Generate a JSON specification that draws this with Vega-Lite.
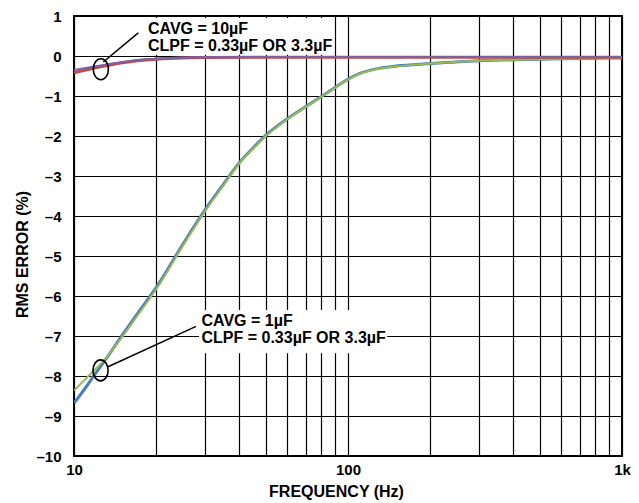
{
  "$schema": "https://vega.github.io/schema/vega-lite/v6.json",
  "autosize": "none",
  "width": 548,
  "height": 440,
  "padding": {"left": 74, "top": 16, "right": 17, "bottom": 47},
  "background": "white",
  "config": {
    "view": {"stroke": "black", "strokeWidth": 2},
    "font": "Liberation Sans",
    "axis": {
      "grid": true,
      "gridColor": "black",
      "gridWidth": 1.2,
      "gridOpacity": 1,
      "domain": false,
      "ticks": false,
      "tickSize": 0,
      "labelFont": "Liberation Sans",
      "labelFontWeight": "bold",
      "labelFontSize": 15,
      "labelColor": "black",
      "titleFont": "Liberation Sans",
      "titleFontWeight": "bold",
      "titleFontSize": 16,
      "titleColor": "black",
      "labelOverlap": false,
      "labelBound": false,
      "labelFlush": false
    }
  },
  "datasets": {
    "curves": [
      {"series": "A", "f": 10, "v": -8.68},
      {"series": "A", "f": 11, "v": -8.3},
      {"series": "A", "f": 12, "v": -7.93},
      {"series": "A", "f": 13, "v": -7.6},
      {"series": "A", "f": 15, "v": -6.98},
      {"series": "A", "f": 17, "v": -6.45},
      {"series": "A", "f": 20, "v": -5.78},
      {"series": "A", "f": 25, "v": -4.7},
      {"series": "A", "f": 30, "v": -3.86},
      {"series": "A", "f": 35, "v": -3.22},
      {"series": "A", "f": 40, "v": -2.68},
      {"series": "A", "f": 45, "v": -2.3},
      {"series": "A", "f": 50, "v": -1.99},
      {"series": "A", "f": 60, "v": -1.57},
      {"series": "A", "f": 70, "v": -1.27},
      {"series": "A", "f": 80, "v": -1.01},
      {"series": "A", "f": 90, "v": -0.78},
      {"series": "A", "f": 100, "v": -0.58},
      {"series": "A", "f": 110, "v": -0.44},
      {"series": "A", "f": 120, "v": -0.36},
      {"series": "A", "f": 130, "v": -0.31},
      {"series": "A", "f": 150, "v": -0.25},
      {"series": "A", "f": 200, "v": -0.19},
      {"series": "A", "f": 300, "v": -0.12},
      {"series": "A", "f": 500, "v": -0.08},
      {"series": "A", "f": 700, "v": -0.06},
      {"series": "A", "f": 1000, "v": -0.05},
      {"series": "B", "f": 10, "v": -8.36},
      {"series": "B", "f": 11, "v": -8.08},
      {"series": "B", "f": 12, "v": -7.82},
      {"series": "B", "f": 13, "v": -7.57},
      {"series": "B", "f": 15, "v": -7.02},
      {"series": "B", "f": 17, "v": -6.5},
      {"series": "B", "f": 20, "v": -5.82},
      {"series": "B", "f": 25, "v": -4.74},
      {"series": "B", "f": 30, "v": -3.89},
      {"series": "B", "f": 35, "v": -3.25},
      {"series": "B", "f": 40, "v": -2.7},
      {"series": "B", "f": 45, "v": -2.32},
      {"series": "B", "f": 50, "v": -2.01},
      {"series": "B", "f": 60, "v": -1.58},
      {"series": "B", "f": 70, "v": -1.28},
      {"series": "B", "f": 80, "v": -1.02},
      {"series": "B", "f": 90, "v": -0.79},
      {"series": "B", "f": 100, "v": -0.59},
      {"series": "B", "f": 110, "v": -0.45},
      {"series": "B", "f": 120, "v": -0.37},
      {"series": "B", "f": 130, "v": -0.32},
      {"series": "B", "f": 150, "v": -0.26},
      {"series": "B", "f": 200, "v": -0.19},
      {"series": "B", "f": 300, "v": -0.12},
      {"series": "B", "f": 500, "v": -0.08},
      {"series": "B", "f": 700, "v": -0.06},
      {"series": "B", "f": 1000, "v": -0.05},
      {"series": "C", "f": 10, "v": -0.42},
      {"series": "C", "f": 12.5, "v": -0.27},
      {"series": "C", "f": 15, "v": -0.17},
      {"series": "C", "f": 17, "v": -0.12},
      {"series": "C", "f": 20, "v": -0.08},
      {"series": "C", "f": 25, "v": -0.05},
      {"series": "C", "f": 30, "v": -0.04},
      {"series": "C", "f": 50, "v": -0.03},
      {"series": "C", "f": 1000, "v": -0.03},
      {"series": "D", "f": 10, "v": -0.35},
      {"series": "D", "f": 12.5, "v": -0.24},
      {"series": "D", "f": 15, "v": -0.15},
      {"series": "D", "f": 17, "v": -0.1},
      {"series": "D", "f": 20, "v": -0.07},
      {"series": "D", "f": 25, "v": -0.04},
      {"series": "D", "f": 30, "v": -0.03},
      {"series": "D", "f": 50, "v": -0.025},
      {"series": "D", "f": 1000, "v": -0.025}
    ],
    "boxes": [
      {"f": 17.5, "f2": 89, "v": 0.95, "v2": 0.03},
      {"f": 28.6, "f2": 139, "v": -6.35, "v2": -7.43}
    ],
    "leaders": [
      {"id": "top", "f": 12.79, "v": -0.15},
      {"id": "top", "f": 17.16, "v": 0.58},
      {"id": "bottom", "f": 13.19, "v": -7.78},
      {"id": "bottom", "f": 27.9, "v": -6.76}
    ],
    "rings": [
      {"f": 12.53, "v": -0.33},
      {"f": 12.5, "v": -7.86}
    ],
    "notes": [
      {"f": 18.62, "v": 0.54, "label": "CAVG = 10µF"},
      {"f": 18.62, "v": 0.13, "label": "CLPF = 0.33µF OR 3.3µF"},
      {"f": 29.2, "v": -6.76, "label": "CAVG = 1µF"},
      {"f": 29.2, "v": -7.17, "label": "CLPF = 0.33µF OR 3.3µF"}
    ]
  },
  "encoding": {
    "x": {
      "field": "f",
      "type": "quantitative",
      "scale": {"type": "log", "domain": [10, 1000], "nice": false},
      "axis": {
        "title": "FREQUENCY (Hz)",
        "values": [10, 20, 30, 40, 50, 60, 70, 80, 90, 100, 200, 300, 400, 500, 600, 700, 800, 900, 1000],
        "labelExpr": "datum.value == 10 ? '10' : datum.value == 100 ? '100' : datum.value == 1000 ? '1k' : ''",
        "labelPadding": 6,
        "titleX": 262,
        "titleY": 40,
        "titleAlign": "center",
        "titleBaseline": "alphabetic"
      }
    },
    "y": {
      "field": "v",
      "type": "quantitative",
      "scale": {"domain": [-10, 1], "nice": false, "zero": false},
      "axis": {
        "title": "RMS ERROR (%)",
        "values": [-10, -9, -8, -7, -6, -5, -4, -3, -2, -1, 0, 1],
        "labelExpr": "datum.value < 0 ? '–' + (-datum.value) : '' + datum.value",
        "labelPadding": 13,
        "titleX": -47,
        "titleY": 238,
        "titleAlign": "center",
        "titleBaseline": "alphabetic",
        "titleAngle": -90
      }
    }
  },
  "layer": [
    {
      "data": {"name": "boxes"},
      "mark": {"type": "rect", "fill": "white", "stroke": null},
      "encoding": {
        "x2": {"field": "f2"},
        "y2": {"field": "v2"}
      }
    },
    {
      "data": {"name": "curves"},
      "transform": [{"filter": "datum.series == 'A'"}],
      "mark": {"type": "line", "color": "#4a7ebb", "strokeWidth": 3, "interpolate": "monotone", "clip": true}
    },
    {
      "data": {"name": "curves"},
      "transform": [{"filter": "datum.series == 'B'"}],
      "mark": {"type": "line", "color": "#98b954", "strokeWidth": 2, "interpolate": "monotone", "clip": true}
    },
    {
      "data": {"name": "curves"},
      "transform": [{"filter": "datum.series == 'C'"}],
      "mark": {"type": "line", "color": "#be4b48", "strokeWidth": 3, "interpolate": "monotone", "clip": true}
    },
    {
      "data": {"name": "curves"},
      "transform": [{"filter": "datum.series == 'D'"}],
      "mark": {"type": "line", "color": "#7d60a0", "strokeWidth": 2.2, "interpolate": "monotone", "clip": true}
    },
    {
      "data": {"name": "leaders"},
      "mark": {"type": "line", "color": "black", "strokeWidth": 1.5},
      "encoding": {"detail": {"field": "id"}}
    },
    {
      "data": {"name": "rings"},
      "mark": {
        "type": "point",
        "shape": "M -0.72 0 A 0.72 1 0 1 0 0.72 0 A 0.72 1 0 1 0 -0.72 0 Z",
        "size": 441,
        "filled": false,
        "stroke": "black",
        "strokeWidth": 1.6,
        "opacity": 1
      }
    },
    {
      "data": {"name": "notes"},
      "mark": {"type": "text", "align": "left", "baseline": "alphabetic", "font": "Liberation Sans", "fontWeight": "bold", "fontSize": 16, "color": "black"},
      "encoding": {"text": {"field": "label"}}
    }
  ]
}
